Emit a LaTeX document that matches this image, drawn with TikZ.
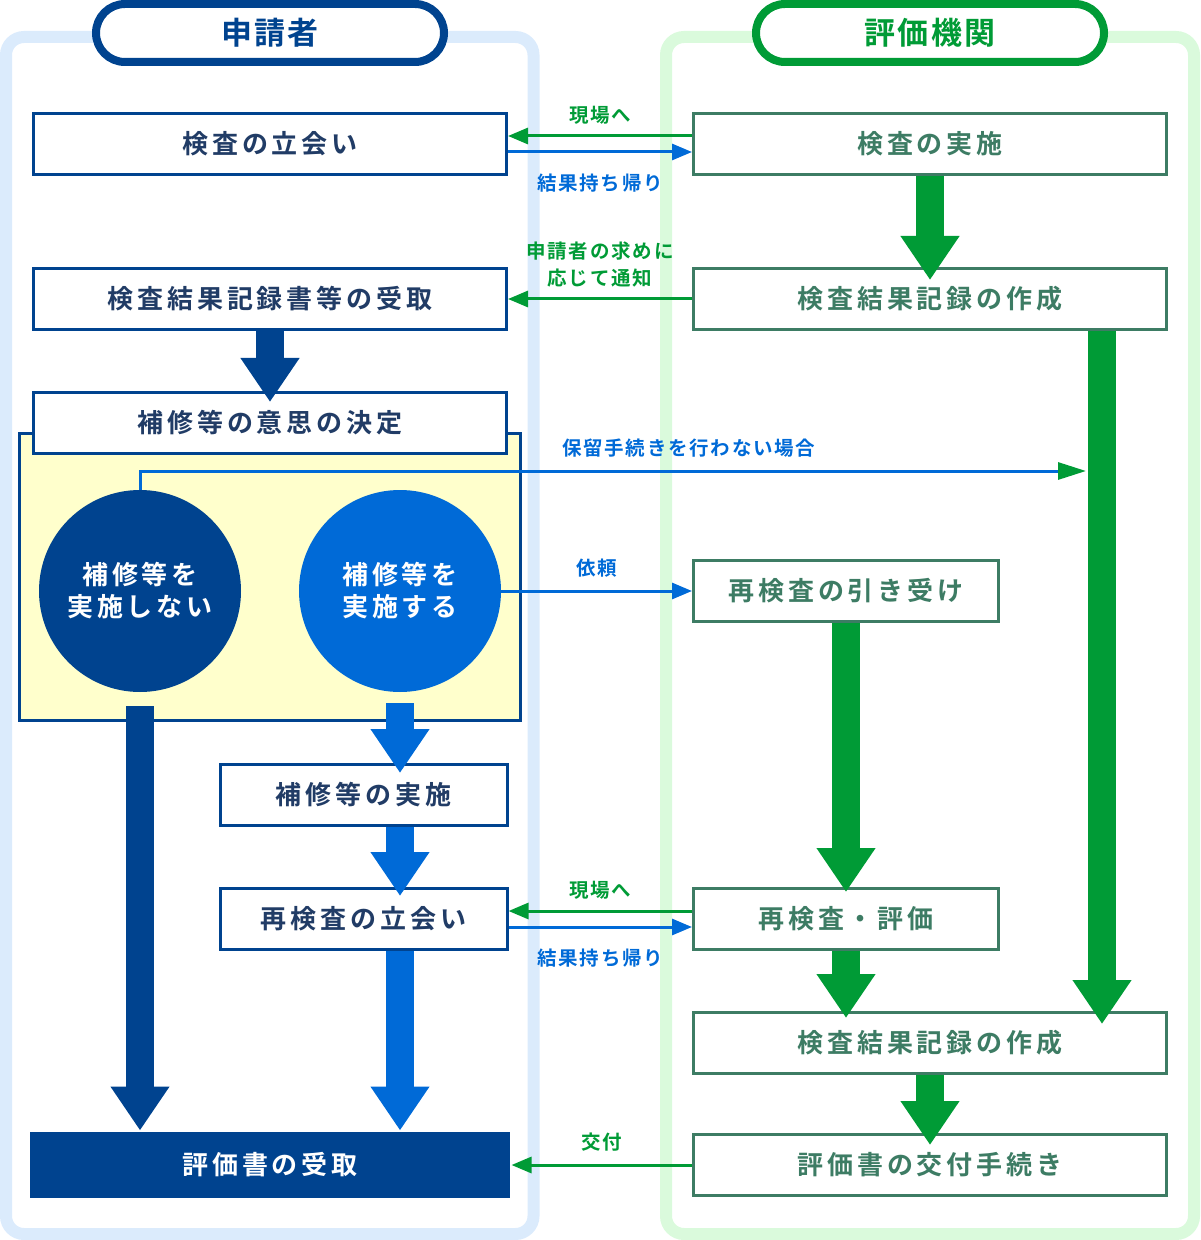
\documentclass[tikz,border=0pt]{standalone}
\usepackage{fontspec}
\setmainfont{Noto Sans CJK JP}[BoldFont=* Bold]
\newfontfamily\boxfont{Noto Sans CJK JP}[BoldFont=* Bold,LetterSpace=15]
\newfontfamily\headfont{Noto Sans CJK JP}[BoldFont=* Bold,LetterSpace=8]
\newfontfamily\labfont{Noto Sans CJK JP}[BoldFont=* Bold,LetterSpace=9]
\usetikzlibrary{arrows.meta,calc,positioning}

\definecolor{navy}{HTML}{00438F}
\definecolor{midblue}{HTML}{006AD7}
\definecolor{grn}{HTML}{009B36}
\definecolor{gbord}{HTML}{3D7C64}
\definecolor{ltext}{HTML}{213C66}
\definecolor{laneblue}{HTML}{DBEBFC}
\definecolor{lanegreen}{HTML}{DAFADC}
\definecolor{pale}{HTML}{FFFFCC}

\tikzset{
  lane/.style={line width=6pt, rounded corners=9pt},
  pill/.style={draw, fill=white, line width=4pt, minimum width=174pt, minimum height=29pt,
    rounded corners=14.5pt, inner sep=0pt, font=\headfont\fontsize{15.5}{18}\selectfont\bfseries},
  lbox/.style={draw=navy, fill=white, line width=1.5pt, minimum width=236.5pt, minimum height=30.5pt,
    inner sep=0pt, text=ltext, font=\boxfont\fontsize{13}{15}\selectfont\bfseries},
  rbox/.style={lbox, draw=gbord, text=gbord},
  circ/.style={circle, minimum size=101pt, inner sep=0pt, text=white, align=center,
    font=\boxfont\fontsize{13}{16}\selectfont\bfseries},
  fat/.style={line width=14pt, -{Triangle[length=22pt,width=28pt]}},
  thin/.style={line width=1.5pt, -{Triangle[length=10pt,width=8pt]}},
  lab/.style={inner sep=0pt, font=\labfont\fontsize{9.75}{13.5}\selectfont\bfseries, align=center}
}

\begin{document}
\begin{tikzpicture}[x=0.5pt,y=-0.5pt]
\useasboundingbox (0,0) rectangle (1200,1240);

% lanes
\draw[lane, draw=laneblue] (6,37) rectangle (533.5,1234);
\draw[lane, draw=lanegreen] (666,37) rectangle (1194,1234);
\node[pill, draw=navy, text=navy] (hdrapp) at (270,33) {申請者};
\node[pill, draw=grn, text=grn] (hdreval) at (930,33) {評価機関};

% applicant side
\node[lbox] (tachiai) at (270,144) {検査の立会い};
\node[lbox] (uketori) at (270,299) {検査結果記録書等の受取};
\draw[draw=navy, fill=pale, line width=1.5pt] (19.5,433.5) rectangle (520,720.5);
\node[lbox] (kettei) at (270,423) {補修等の意思の決定};
\node[circ, fill=navy] (nodo) at (140,591) {補修等を\\実施しない};
\node[circ, fill=midblue] (doo) at (400,591) {補修等を\\実施する};
\node[lbox, minimum width=143.5pt] (hoshu) at (363.5,795) {補修等の実施};
\node[lbox, minimum width=143.5pt] (saitachiai) at (363.5,919) {再検査の立会い};
\node[lbox, draw=none, fill=navy, text=white, minimum width=240pt, minimum height=33pt] (juryo) at (270,1165) {評価書の受取};

% evaluator side
\node[rbox] (jisshi) at (930,144) {検査の実施};
\node[rbox] (sakusei) at (930,299) {検査結果記録の作成};
\node[rbox, minimum width=152.5pt] (hikiuke) at (846,591) {再検査の引き受け};
\node[rbox, minimum width=152.5pt] (saihyoka) at (846,919) {再検査・評価};
\node[rbox] (sakusei2) at (930,1043) {検査結果記録の作成};
\node[rbox] (kofu) at (930,1165) {評価書の交付手続き};

% thick flow arrows
\coordinate (gx) at (1102,0);
\draw[fat, draw=grn] (jisshi.south) -- ($(sakusei.north)+(0,13)$);
\draw[fat, draw=navy] (uketori.south) -- ($(kettei.north)+(0,11)$);
\draw[fat, draw=grn] (sakusei.south -| gx) -- ($(sakusei2.north -| gx)+(0,13)$);
\draw[fat, draw=grn] (hikiuke.south) -- ($(saihyoka.north)+(0,5)$);
\draw[fat, draw=grn] (saihyoka.south) -- ($(sakusei2.north -| saihyoka)+(0,7)$);
\draw[fat, draw=grn] (sakusei2.south) -- ($(kofu.north)+(0,12)$);
\draw[fat, draw=navy] ($(nodo.south)+(0,14)$) -- (juryo.north -| nodo);
\draw[fat, draw=midblue] ($(doo.south)+(0,11)$) -- ($(hoshu.north -| doo)+(0,10)$);
\draw[fat, draw=midblue] (hoshu.south -| doo) -- ($(saitachiai.north -| doo)+(0,9)$);
\draw[fat, draw=midblue] (saitachiai.south -| doo) -- (juryo.north -| doo);

% thin arrows between the two sides
\draw[thin, draw=grn] ([yshift=4pt]jisshi.west) -- ([yshift=4pt]jisshi.west -| tachiai.east)
  node[midway, above=5pt, lab, text=grn] {現場へ};
\draw[thin, draw=midblue] ([yshift=-4pt]tachiai.east) -- ([yshift=-4pt]tachiai.east -| jisshi.west)
  node[midway, below=10pt, lab, text=midblue] {結果持ち帰り};
\draw[thin, draw=grn] (sakusei.west) -- (sakusei.west -| uketori.east)
  node[midway, above=5pt, lab, text=grn] {申請者の求めに\\応じて通知};
\coordinate (hend) at (1086,471);
\draw[line width=1.5pt, draw=midblue, -{Triangle[length=14pt,width=8.5pt,color=grn]}] (nodo.north) |- (hend)
  node[pos=0.79, above=6pt, lab, text=midblue] {保留手続きを行わない場合};
\draw[thin, draw=midblue] (doo.east) -- (hikiuke.west)
  node[midway, above=6pt, lab, text=midblue] {依頼};
\draw[thin, draw=grn] ([yshift=4pt]saihyoka.west) -- ([yshift=4pt]saihyoka.west -| saitachiai.east)
  node[midway, above=5pt, lab, text=grn] {現場へ};
\draw[thin, draw=midblue] ([yshift=-4pt]saitachiai.east) -- ([yshift=-4pt]saitachiai.east -| saihyoka.west)
  node[midway, below=10pt, lab, text=midblue] {結果持ち帰り};
\draw[thin, draw=grn] (kofu.west) -- (kofu.west -| juryo.east)
  node[midway, above=6pt, lab, text=grn] {交付};
\end{tikzpicture}
\end{document}
